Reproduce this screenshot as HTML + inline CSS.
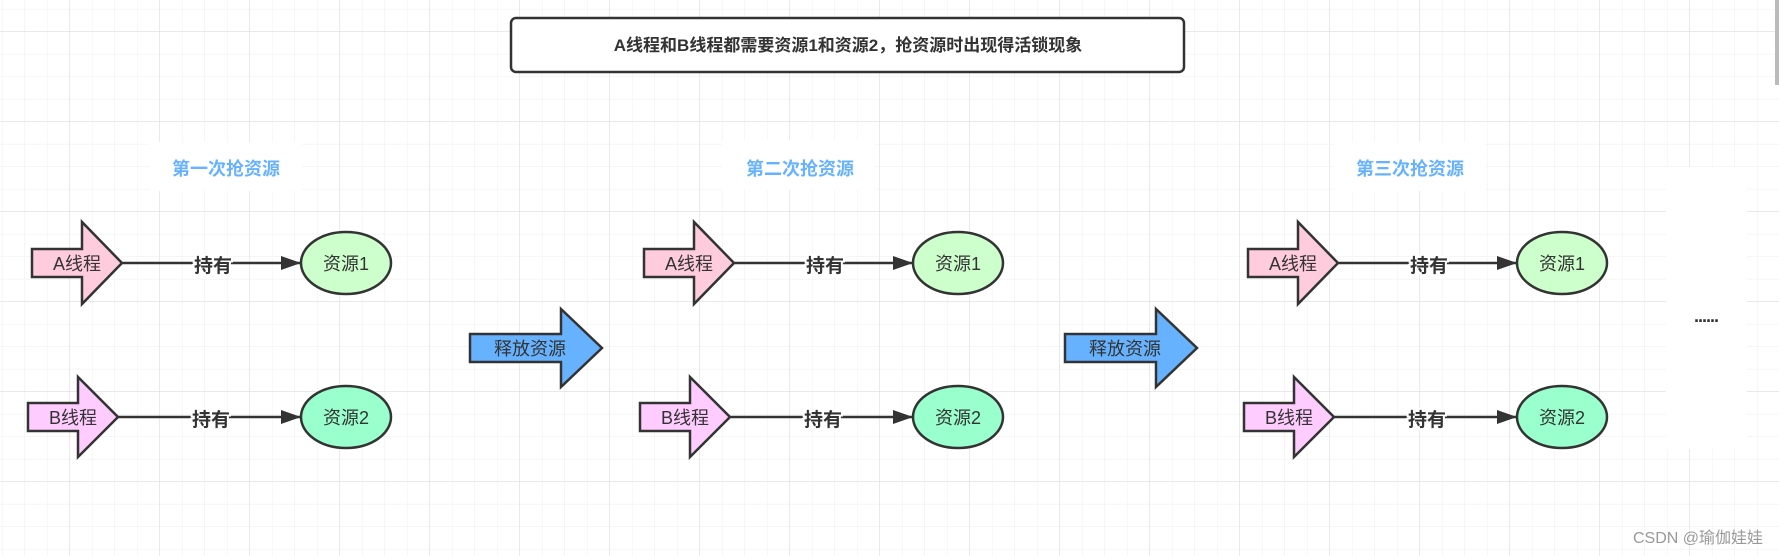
<!DOCTYPE html>
<html><head><meta charset="utf-8">
<style>
html,body{margin:0;padding:0;background:#fff;}
svg{display:block;}
text{font-family:"Liberation Sans","Noto Sans CJK SC",sans-serif;}
</style></head>
<body>
<svg width="1779" height="556" viewBox="0 0 1779 556" xmlns="http://www.w3.org/2000/svg">
<defs>
<pattern id="minor" x="2.5" y="9.5" width="22.5" height="22.5" patternUnits="userSpaceOnUse">
<path d="M22.5 0V22.5M0 22.5H22.5" stroke="#f0f0f0" stroke-width="1.2" fill="none"/>
</pattern>
<pattern id="major" x="-20" y="-58" width="90" height="90" patternUnits="userSpaceOnUse">
<path d="M90 0V90M0 90H90" stroke="#e3e3e3" stroke-width="1.5" fill="none"/>
</pattern>
<marker id="ah" markerWidth="10" markerHeight="10" refX="9" refY="5" orient="auto" markerUnits="userSpaceOnUse">
<path d="M0 0L10 5L0 10Z" fill="#333"/>
</marker>
<g id="grp">
  <path d="M32 249H82V222L122 263L82 304V277H32Z" fill="#ffccdd" stroke="#333" stroke-width="2.5" stroke-linejoin="miter"/>
  <text x="77" y="270" font-size="18" fill="#333" text-anchor="middle">A线程</text>
  <path d="M122 263H300" stroke="#333" stroke-width="2.5"/>
  <path d="M281 256L301 263L281 270Z" fill="#333"/>
  <rect x="192" y="252" width="42" height="22" fill="#fff" opacity="0"/>
  <text x="213" y="272" font-size="19" font-weight="bold" fill="#333" text-anchor="middle" style="paint-order:stroke" stroke="#fff" stroke-width="4">持有</text>
  <ellipse cx="346" cy="263" rx="45" ry="31" fill="#ccffcc" stroke="#333" stroke-width="2.5"/>
  <text x="346" y="270" font-size="18" fill="#333" text-anchor="middle">资源1</text>

  <path d="M28 403H78V377L118 417L78 457V431H28Z" fill="#ffccff" stroke="#333" stroke-width="2.5"/>
  <text x="73" y="424" font-size="18" fill="#333" text-anchor="middle">B线程</text>
  <path d="M118 417H300" stroke="#333" stroke-width="2.5"/>
  <path d="M281 410L301 417L281 424Z" fill="#333"/>
  <text x="211" y="426" font-size="19" font-weight="bold" fill="#333" text-anchor="middle" style="paint-order:stroke" stroke="#fff" stroke-width="4">持有</text>
  <ellipse cx="346" cy="417" rx="45" ry="31" fill="#99ffcc" stroke="#333" stroke-width="2.5"/>
  <text x="346" y="424" font-size="18" fill="#333" text-anchor="middle">资源2</text>
</g>
<g id="rel">
  <path d="M470 334H561V309L602 348L561 387V362H470Z" fill="#66b2ff" stroke="#333" stroke-width="2.5"/>
  <text x="530" y="355" font-size="18" fill="#333" text-anchor="middle">释放资源</text>
</g>
</defs>
<rect width="1779" height="556" fill="#fff"/>
<rect width="1779" height="556" fill="url(#minor)"/>
<rect width="1779" height="556" fill="url(#major)"/>

<rect x="511" y="18" width="673" height="54" rx="5" fill="#fff" stroke="#333" stroke-width="2.5"/>
<text x="848" y="51" font-size="17" font-weight="bold" fill="#333" text-anchor="middle">A线程和B线程都需要资源1和资源2，抢资源时出现得活锁现象</text>

<rect x="150" y="142" width="152" height="49" fill="#fff"/>
<text x="226" y="175" font-size="18" font-weight="bold" fill="#66b2ff" text-anchor="middle">第一次抢资源</text>
<rect x="722" y="140" width="153" height="50" fill="#fff"/>
<text x="800" y="175" font-size="18" font-weight="bold" fill="#66b2ff" text-anchor="middle">第二次抢资源</text>
<rect x="1334" y="142" width="151" height="49" fill="#fff"/>
<text x="1410" y="175" font-size="18" font-weight="bold" fill="#66b2ff" text-anchor="middle">第三次抢资源</text>

<use href="#grp"/>
<use href="#grp" transform="translate(612,0)"/>
<use href="#grp" transform="translate(1216,0)"/>
<use href="#rel"/>
<use href="#rel" transform="translate(595,0)"/>

<rect x="1666" y="167" width="81" height="282" fill="#fff"/>
<text x="1706" y="322" font-size="18" font-weight="bold" fill="#333" text-anchor="middle" letter-spacing="-1">......</text>

<rect x="1775" y="0" width="4" height="85" fill="#bbb"/>
<text x="1763" y="543" font-size="16" fill="#999" text-anchor="end">CSDN @瑜伽娃娃</text>
</svg>
</body></html>
